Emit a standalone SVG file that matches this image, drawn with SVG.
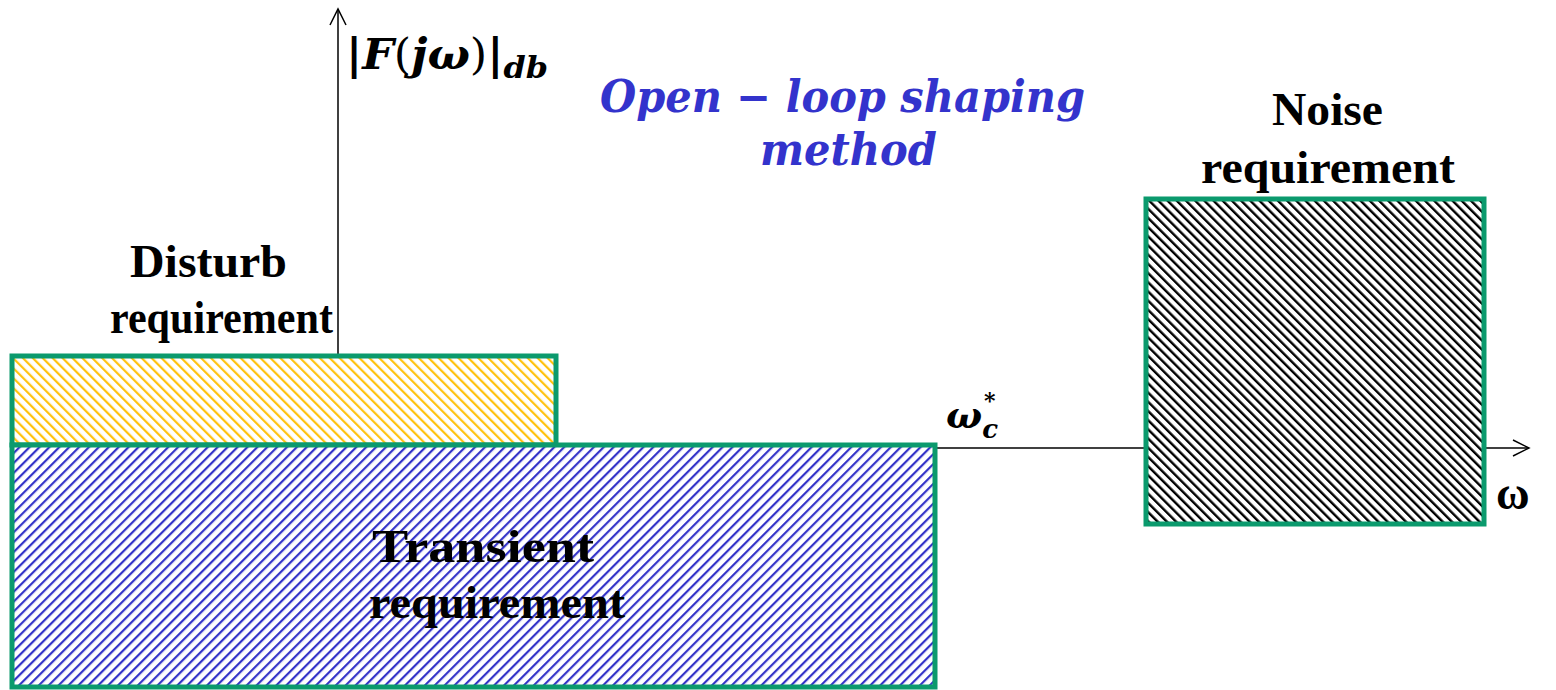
<svg xmlns="http://www.w3.org/2000/svg" width="1556" height="690" viewBox="0 0 1556 690">
<style>
.lbl{font-family:"Liberation Serif",serif;font-weight:bold;font-size:46px;fill:#000;text-anchor:start}
.math{font-family:"DejaVu Serif","Liberation Serif",serif;font-weight:bold;font-style:italic}
.box{stroke:#0b9a6d;stroke-width:5}
.ax{stroke:#000;stroke-width:1.5;fill:none}
</style>
<defs>
<pattern id="pY" width="7" height="7" patternUnits="userSpaceOnUse" patternTransform="rotate(-45)">
<rect width="7" height="7" fill="#fff"/><rect width="2.2" height="7" fill="#ffc20e"/>
</pattern>
<pattern id="pB" width="7" height="7" patternUnits="userSpaceOnUse" patternTransform="rotate(45)">
<rect width="7" height="7" fill="#fff"/><rect width="2.2" height="7" fill="#3434c8"/>
</pattern>
<pattern id="pK" width="6.5" height="6.5" patternUnits="userSpaceOnUse" patternTransform="rotate(-45)">
<rect width="6.5" height="6.5" fill="#fff"/><rect width="2.4" height="6.5" fill="#000"/>
</pattern>
<marker id="arr" markerWidth="20" markerHeight="20" refX="18" refY="10" orient="auto" markerUnits="userSpaceOnUse">
<path d="M2,2 L18,10 L2,18" fill="none" stroke="#000" stroke-width="1.5"/>
</marker>
</defs>
<g id="connectors">
<line class="ax" x1="338" y1="356" x2="338" y2="9" marker-end="url(#arr)"/>
<line class="ax" x1="935" y1="448" x2="1529" y2="448" marker-end="url(#arr)"/>
</g>
<g id="disturb">
<rect class="box" x="12" y="356" width="544" height="89" fill="url(#pY)"/>
<text class="lbl" x="130" y="277" textLength="157" lengthAdjust="spacingAndGlyphs">Disturb</text>
<text class="lbl" x="110" y="333" textLength="223" lengthAdjust="spacingAndGlyphs">requirement</text>
</g>
<g id="transient">
<rect class="box" x="12" y="445" width="923" height="242" fill="url(#pB)"/>
<text class="lbl" x="372" y="562" font-size="48" textLength="222" lengthAdjust="spacingAndGlyphs">Transient</text>
<text class="lbl" x="369" y="618" font-size="48" textLength="256" lengthAdjust="spacingAndGlyphs">requirement</text>
</g>
<g id="noise">
<rect class="box" x="1146" y="199" width="338" height="325" fill="url(#pK)"/>
<text class="lbl" x="1272" y="125" font-size="48" textLength="111" lengthAdjust="spacingAndGlyphs">Noise</text>
<text class="lbl" x="1201" y="183" font-size="48" textLength="254" lengthAdjust="spacingAndGlyphs">requirement</text>
</g>
<g id="labels">
<text class="math" x="346" y="69" font-size="42" textLength="202" lengthAdjust="spacingAndGlyphs">|<tspan>F</tspan><tspan font-style="normal" font-weight="normal">(</tspan>j<tspan>ω</tspan><tspan font-style="normal" font-weight="normal">)</tspan>|<tspan font-size="30" dy="9">db</tspan></text>
<text class="math" x="600" y="112" font-size="44" fill="#3333cc" textLength="485" lengthAdjust="spacingAndGlyphs">Open − loop shaping</text>
<text class="math" x="760" y="165" font-size="44" fill="#3333cc" textLength="177" lengthAdjust="spacingAndGlyphs">method</text>
<text class="math" x="946" y="428" font-size="38">ω<tspan font-size="26" dy="10">c</tspan><tspan font-size="22" dx="-14" dy="-30" font-style="normal">*</tspan></text>
<text class="lbl" x="1496" y="509" font-size="36">ω</text>
</g>
</svg>
